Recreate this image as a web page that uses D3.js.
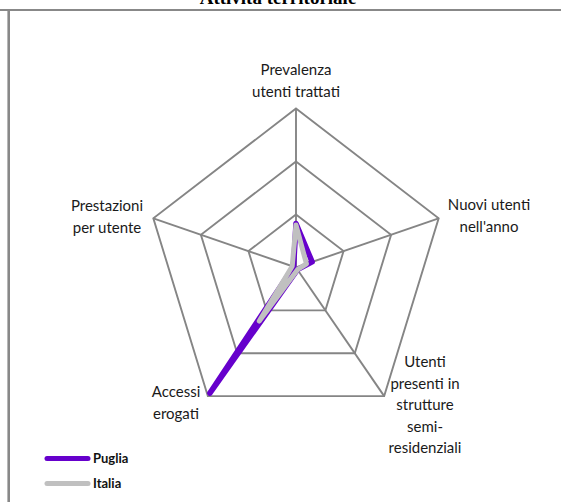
<!DOCTYPE html>
<html>
<head>
<meta charset="utf-8">
<script src="https://cdn.jsdelivr.net/npm/d3@7"></script>
<style>
  html, body { margin: 0; padding: 0; background: #fff; }
  svg { display: block; }
</style>
</head>
<body>
<svg id="chart" width="561" height="502"></svg>
<script>
// Axes of the radar, clockwise from the top
const axes = [
  ["Prevalenza", "utenti trattati"],
  ["Nuovi utenti", "nell'anno"],
  ["Utenti", "presenti in", "strutture", "semi-", "residenziali"],
  ["Accessi", "erogati"],
  ["Prestazioni", "per utente"]
];
const seriesNames = ["Puglia", "Italia"];
const puglia = [0.83, 0.34, 0.05, 2.93, 0.05];
const italia = [0.80, 0.22, 0.05, 1.25, 0.08];
const gridLevels = [1, 2, 3];
const colors = ["#6600CC", "#C0C0C0"];

const svg = d3.select("#chart");
const cx = 296, cy = 267.5, rx = 150, ry = 159;
const r = d3.scaleLinear().domain([0, 3]).range([0, 1]);
const angle = d3.scaleLinear().domain([0, axes.length]).range([-Math.PI / 2, 1.5 * Math.PI]);
const px = (i, v) => cx + r(v) * rx * Math.cos(angle(i));
const py = (i, v) => cy + r(v) * ry * Math.sin(angle(i));

// Title and frame
svg.append("text")
  .attr("x", 278).attr("y", 4)
  .attr("text-anchor", "middle")
  .attr("font-family", "Liberation Serif, Times New Roman, serif")
  .attr("font-weight", "bold").attr("font-size", 19)
  .text("Attività territoriale");
svg.append("line").attr("x1", 0).attr("x2", 561).attr("y1", 10).attr("y2", 10)
  .attr("stroke", "#888").attr("stroke-width", 2);
svg.append("line").attr("x1", 8.7).attr("x2", 8.7).attr("y1", 10).attr("y2", 502)
  .attr("stroke", "#888").attr("stroke-width", 2.6);

// Grid pentagons and spokes
const closed = d3.line().x(d => d[0]).y(d => d[1]).curve(d3.curveLinearClosed);
const grid = svg.append("g").attr("fill", "none").attr("stroke", "#858585").attr("stroke-width", 1.9);
gridLevels.forEach(lv => {
  grid.append("path").attr("d", closed(axes.map((a, i) => [px(i, lv), py(i, lv)])));
});
axes.forEach((a, i) => {
  grid.append("line")
    .attr("x1", cx).attr("y1", cy)
    .attr("x2", px(i, 3)).attr("y2", py(i, 3));
});

// Axis labels
const labelFont = "Lato, 'Open Sans', sans-serif";
const labelPos = [
  { x: 296, y: 75 },
  { x: 489, y: 210 },
  { x: 425, y: 367 },
  { x: 176, y: 397 },
  { x: 107, y: 211 }
];
axes.forEach((lines, i) => {
  const t = svg.append("text")
    .attr("text-anchor", "middle")
    .attr("font-family", labelFont).attr("font-size", 15)
    .attr("fill", "#1a1a1a");
  lines.forEach((ln, k) => {
    t.append("tspan").attr("x", labelPos[i].x).attr("y", labelPos[i].y + k * 21.5).text(ln);
  });
});

// Series lines
[puglia, italia].forEach((vals, s) => {
  svg.append("path")
    .attr("d", closed(vals.map((v, i) => [px(i, v), py(i, v)])))
    .attr("fill", "none")
    .attr("stroke", colors[s])
    .attr("stroke-width", s === 0 ? 5.5 : 5)
    .attr("stroke-linejoin", "round")
    .attr("stroke-linecap", "round");
});

// Legend
const legend = svg.append("g");
seriesNames.forEach((name, s) => {
  const y = 458.5 + s * 25;
  legend.append("line")
    .attr("x1", 47).attr("x2", 88).attr("y1", y).attr("y2", y)
    .attr("stroke", colors[s]).attr("stroke-width", 5).attr("stroke-linecap", "round");
  legend.append("text")
    .attr("x", 93).attr("y", y + 4.5)
    .attr("font-family", labelFont).attr("font-weight", "bold").attr("font-size", 13)
    .attr("fill", "#111")
    .text(name);
});
</script>
</body>
</html>
